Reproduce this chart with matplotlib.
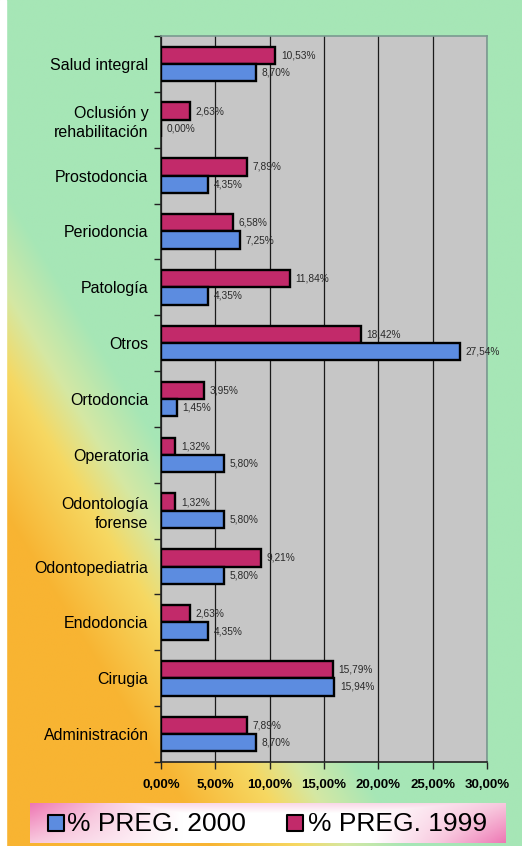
import numpy as np
import matplotlib

matplotlib.use("Agg")
import matplotlib.pyplot as plt
from matplotlib.colors import LinearSegmentedColormap

plt.rcParams["font.family"] = ["Liberation Sans", "DejaVu Sans"]

categories = [
    "Salud integral",
    "Oclusión y\nrehabilitación",
    "Prostodoncia",
    "Periodoncia",
    "Patología",
    "Otros",
    "Ortodoncia",
    "Operatoria",
    "Odontología\nforense",
    "Odontopediatria",
    "Endodoncia",
    "Cirugia",
    "Administración",
]
preg_1999 = [10.53, 2.63, 7.89, 6.58, 11.84, 18.42, 3.95, 1.32, 1.32, 9.21, 2.63, 15.79, 7.89]
preg_2000 = [8.70, 0.00, 4.35, 7.25, 4.35, 27.54, 1.45, 5.80, 5.80, 5.80, 4.35, 15.94, 8.70]
x_ticks = [0, 5, 10, 15, 20, 25, 30]
series_labels = ["% PREG. 2000", "% PREG. 1999"]

color_1999 = "#C22A6A"
color_2000 = "#5C8CE0"

fig = plt.figure(figsize=(5.22, 8.46), dpi=100)

# background gradient: green everywhere, orange towards the bottom-left corner
bg = fig.add_axes([0, 0, 1, 1], zorder=-10)
h, w = 400, 250
yy, xx = np.mgrid[0:1:h * 1j, 0:1:w * 1j]
d = yy - 1.0 * xx
t = np.clip((d - 0.22) / 0.38, 0, 1)
bg_cmap = LinearSegmentedColormap.from_list(
    "bg", [(0, "#A6E6B6"), (0.3, "#D4E8A4"), (0.55, "#F6D862"), (1, "#F8B432")]
)
bg.imshow(t, cmap=bg_cmap, vmin=0, vmax=1, aspect="auto", extent=[0, 1, 1, 0],
          interpolation="bilinear")
bg.axvspan(0, 6 / 522, color="white")
bg.set_xlim(0, 1)
bg.set_ylim(1, 0)
bg.axis("off")

ax = fig.add_axes([161 / 522, 84 / 846, 326 / 522, 726 / 846])
ax.set_facecolor("#C6C6C6")

n = len(categories)
pos = np.arange(n)[::-1]
bar_h = 0.31
bars_99 = ax.barh(pos + bar_h / 2, preg_1999, height=bar_h, color=color_1999,
                  edgecolor="black", linewidth=1.7, zorder=3)
bars_00 = ax.barh(pos - bar_h / 2, preg_2000, height=bar_h, color=color_2000,
                  edgecolor="black", linewidth=1.7, zorder=3)

for bars, vals in ((bars_99, preg_1999), (bars_00, preg_2000)):
    for b, v in zip(bars, vals):
        ax.annotate(f"{v:.2f}%".replace(".", ","),
                    (b.get_width(), b.get_y() + b.get_height() / 2),
                    xytext=(4, 0), textcoords="offset points",
                    ha="left", va="center", fontsize=7.3, color="#2A2A2A", zorder=4)

ax.set_xlim(0, 30)
ax.set_ylim(-0.5, n - 0.5)
ax.set_xticks(x_ticks)
ax.set_xticklabels([f"{v:.2f}%".replace(".", ",") for v in x_ticks],
                   fontsize=9.5, fontweight="bold")
ax.tick_params(axis="x", length=5, width=1, direction="out", pad=7, color="#222222")
ax.set_yticks(pos)
ax.set_yticklabels(categories, fontsize=11.5, linespacing=1.3)
ax.set_yticks(np.arange(n + 1) - 0.5, minor=True)
ax.tick_params(axis="y", which="major", length=0, pad=9)
ax.tick_params(axis="y", which="minor", length=5, width=1, direction="out", color="#222222")
ax.grid(axis="x", color="#1A1A1A", linewidth=0.9, zorder=1)
ax.set_axisbelow(True)
for side in ("left", "bottom"):
    ax.spines[side].set_color("#222222")
    ax.spines[side].set_linewidth(1.2)
for side in ("top", "right"):
    ax.spines[side].set_color("#7A9A90")
    ax.spines[side].set_linewidth(1.2)

# legend box with pink edges fading to white in the middle
lg = fig.add_axes([30 / 522, 3 / 846, 475 / 522, 40 / 846])
gx = np.linspace(0, 1, 300)[None, :]
gy = np.linspace(0, 1, 40)[:, None]  # 0 = top row
left = np.clip((0.32 - gx) / 0.32, 0, 1) * (1.0 - 0.5 * gy)
right = np.clip((gx - 0.72) / 0.28, 0, 1) * (0.5 + 0.5 * gy)
top = np.clip((0.25 - gy) / 0.25, 0, 1) * 0.35
shade = np.clip(np.maximum(np.maximum(left, right), top), 0, 1)
lg_cmap = LinearSegmentedColormap.from_list("lg", ["#FFFFFF", "#F8C8DE", "#EE78B4"])
lg.imshow(shade, cmap=lg_cmap, vmin=0, vmax=1, aspect="auto", extent=[0, 1, 0, 1],
          origin="upper", interpolation="bilinear")
lg.set_xlim(0, 1)
lg.set_ylim(0, 1)
lg.axis("off")
lg.scatter([0.054], [0.5], marker="s", s=120, color=color_2000, edgecolors="black",
           linewidths=1.5, zorder=3)
lg.scatter([0.557], [0.5], marker="s", s=120, color=color_1999, edgecolors="black",
           linewidths=1.5, zorder=3)
lg.text(0.078, 0.48, series_labels[0], fontsize=19, va="center", ha="left")
lg.text(0.585, 0.48, series_labels[1], fontsize=19, va="center", ha="left")

fig.savefig("out.png", dpi=100)
